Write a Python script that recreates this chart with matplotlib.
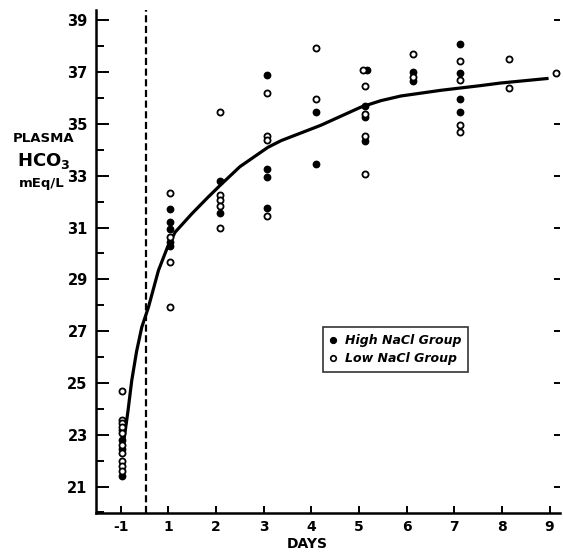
import matplotlib
matplotlib.use("Agg")
import matplotlib.pyplot as plt
from matplotlib.lines import Line2D

plt.rcParams['font.family'] = ['DejaVu Sans']

# x positions: "-1" day sits at 0, then days 1..9
tick_pos = [0, 1, 2, 3, 4, 5, 6, 7, 8, 9]
tick_labels = ['-1', '1', '2', '3', '4', '5', '6', '7', '8', '9']
y_major = [21, 23, 25, 27, 29, 31, 33, 35, 37, 39]
y_minor = [20, 22, 24, 26, 28, 30, 32, 34, 36, 38]

# High NaCl group (filled)
high_x = [0.02, 0.02, 0.02, 0.02,
          1.03, 1.03, 1.03, 1.03, 1.03,
          2.09, 2.09,
          3.08, 3.08, 3.08, 3.08,
          4.10, 4.10,
          5.17, 5.12, 5.12, 5.12,
          6.13, 6.13,
          7.12, 7.12, 7.12, 7.12]
high_y = [23.2, 22.8, 22.45, 21.4,
          31.72, 31.2, 30.95, 30.45, 30.3,
          32.8, 31.55,
          36.9, 33.25, 32.95, 31.75,
          35.45, 33.45,
          37.1, 35.7, 35.25, 34.35,
          37.0, 36.65,
          38.1, 36.95, 35.95, 35.45]

# Low NaCl group (open)
low_x = [0.02, 0.02, 0.02, 0.02, 0.02, 0.02, 0.02, 0.02, 0.02, 0.02,
         1.03, 1.03, 1.03, 1.03,
         2.09, 2.09, 2.09, 2.09, 2.09,
         3.08, 3.08, 3.08, 3.08,
         4.10, 4.10,
         5.08, 5.12, 5.12, 5.12, 5.12,
         6.13, 6.13,
         7.12, 7.12, 7.12, 7.12,
         8.14, 8.14,
         9.14]
low_y = [24.68, 23.57, 23.44, 23.3, 23.05, 22.6, 22.3, 22.0, 21.8, 21.62,
         32.35, 30.65, 29.68, 27.95,
         35.45, 32.25, 32.05, 31.85, 30.97,
         36.2, 34.55, 34.4, 31.45,
         37.95, 35.95,
         37.1, 36.45, 35.4, 34.55, 33.05,
         37.72, 36.8,
         37.45, 36.7, 34.95, 34.7,
         37.5, 36.4,
         36.97]

# fitted curve
curve_x = [0.06, 0.15, 0.23, 0.33, 0.44, 0.58, 0.79, 0.98, 1.14, 1.49, 1.83,
           2.08, 2.5, 3.09, 3.37, 4.2, 5.04, 5.46, 5.88, 6.72, 7.55, 7.97, 8.98]
curve_y = [22.71, 23.9, 25.09, 26.2, 27.15, 27.92, 29.34, 30.24, 30.82, 31.53,
           32.17, 32.62, 33.35, 34.1, 34.36, 34.95, 35.65, 35.9, 36.08, 36.3,
           36.48, 36.58, 36.76]

dash_x = 0.52

W, H = 563, 552
fig = plt.figure(figsize=(W / 100, H / 100), dpi=100)
ax = fig.add_axes([96 / W, 1 - 513 / H, (560 - 96) / W, (513 - 10) / H])

ax.plot(curve_x, curve_y, color='black', lw=2.3, solid_capstyle='butt', zorder=2)
ax.axvline(dash_x, color='black', lw=1.6, ls=(0, (3.2, 1.6)), zorder=1)

ax.plot(high_x, high_y, 'o', color='black', ms=4.6, zorder=3, clip_on=False)
ax.plot(low_x, low_y, 'o', mfc='white', mec='black', mew=1.3, ms=4.4,
        zorder=3, clip_on=False)

ax.set_xlim(-0.52, 9.22)
ax.set_ylim(19.98, 39.4)

ax.spines['top'].set_visible(False)
ax.spines['right'].set_visible(False)
for s in ['left', 'bottom']:
    ax.spines[s].set_linewidth(1.8)

ax.set_xticks(tick_pos)
ax.set_xticklabels(tick_labels, fontweight='bold', fontsize=10)
ax.set_yticks(y_major)
ax.set_yticklabels([str(v) for v in y_major], fontweight='bold', fontsize=10.5)
ax.set_yticks(y_minor, minor=True)

ax.tick_params(axis='x', direction='in', length=5, width=1.4, pad=5)
ax.tick_params(axis='y', which='major', direction='in', length=9, width=1.4,
               pad=6)
ax.tick_params(axis='y', which='minor', direction='in', length=6, width=1.4)

# short right-hand ticks, no spine
sec = ax.secondary_yaxis('right')
sec.set_yticks(y_major)
sec.tick_params(direction='in', length=4, width=1.4, labelright=False)
sec.spines['right'].set_visible(False)

# legend
handles = [Line2D([], [], ls='none', marker='o', color='black', ms=4.2),
           Line2D([], [], ls='none', marker='o', mfc='white', mec='black',
                  mew=1.2, ms=4.0)]
leg = ax.legend(handles, ['High NaCl Group', 'Low NaCl Group'],
                loc='lower left', bbox_to_anchor=(0.475, 0.268),
                frameon=True, fancybox=False, edgecolor='black',
                handlelength=0.6, handletextpad=0.6, borderpad=0.55,
                labelspacing=0.4,
                prop={'style': 'italic', 'weight': 'bold', 'size': 9})
leg.get_frame().set_linewidth(1.2)

# y label
fig.text(44 / W, 1 - 138 / H, 'PLASMA', ha='center', va='center',
         fontweight='bold', fontsize=9.5)
fig.text(44 / W, 1 - 161 / H, r'HCO$_{\mathbf{3}}$', ha='center', va='center',
         fontweight='bold', fontsize=13)
fig.text(42 / W, 1 - 183 / H, 'mEq/L', ha='center', va='center',
         fontweight='bold', fontsize=9.5)

fig.text(307 / W, 1 - 544 / H, 'DAYS', ha='center', va='center',
         fontweight='bold', fontsize=10)

fig.savefig('out.png', dpi=100)
